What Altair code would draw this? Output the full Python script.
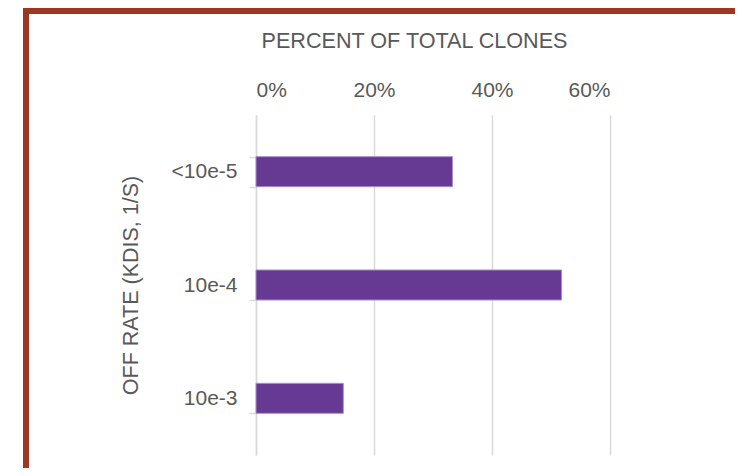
import altair as alt
import pandas as pd

categories = ["<10e-5", "10e-4", "10e-3"]
percents = [0.333, 0.518, 0.148]
x_ticks = [0, 0.2, 0.4, 0.6]

df = pd.DataFrame({"rate": categories, "pct": percents})

FONT = "Liberation Sans"
TXT = "#595959"
GRID = "#D9D9D9"

bars = alt.Chart(df).mark_bar(
    color="#663A93", stroke="#A98FCF", strokeWidth=1
).encode(
    x=alt.X(
        "pct:Q",
        scale=alt.Scale(domain=[0, 0.6], nice=False),
        axis=alt.Axis(
            orient="top", values=x_ticks, format=".0%", title="PERCENT OF TOTAL CLONES",
            grid=True, gridColor=GRID, gridWidth=1.5, ticks=False, tickSize=0,
            domain=False, labelPadding=15, labelFontSize=21, labelColor=TXT,
            labelFont=FONT, titleFont=FONT, titleFontSize=21.6, titleFontWeight="normal",
            titleColor=TXT, titlePadding=27, titleX=158, titleAlign="center",
        ),
    ),
    y=alt.Y(
        "rate:N",
        sort=categories,
        scale=alt.Scale(paddingInner=0.735, paddingOuter=0.3675),
        axis=alt.Axis(
            title="OFF RATE (KDIS, 1/S)", tickBand="extent", ticks=True, tickSize=7,
            tickColor=GRID, tickWidth=1.5, domain=True, domainColor=GRID, domainWidth=1.5,
            grid=False, labelPadding=12, labelFontSize=21, labelColor=TXT, labelFont=FONT,
            titleFont=FONT, titleFontSize=21.5, titleFontWeight="normal", titleColor=TXT,
            titlePadding=29,
        ),
    ),
)

frame = alt.Chart(alt.Data(values=[{}])).mark_rect(
    fill=None, stroke="#9C3723", strokeWidth=6
).encode(
    x=alt.value(-230), x2=alt.value(700),
    y=alt.value(-104), y2=alt.value(700),
)

chart = alt.layer(frame, bars).properties(
    width=354, height=340,
    autosize=alt.AutoSizeParams(type="none"),
    padding={"left": 248, "top": 107, "right": 125, "bottom": 13},
).configure_view(stroke=None)

chart.save("out.html", embed_options={"renderer": "svg", "actions": False})
